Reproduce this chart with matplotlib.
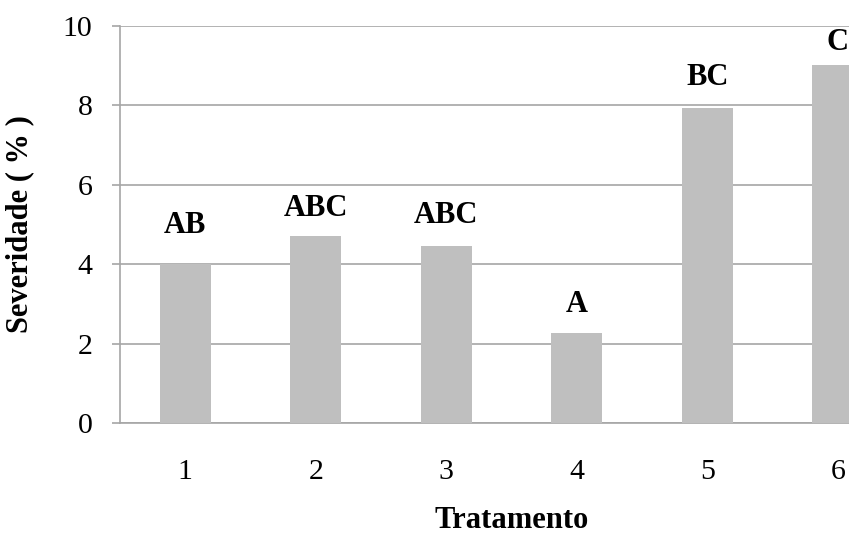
import numpy as np
import matplotlib.pyplot as plt

tratamentos = ['1', '2', '3', '4', '5', '6']
severidade = [4.0, 4.72, 4.45, 2.26, 7.93, 9.02]
letras = ['AB', 'ABC', 'ABC', 'A', 'BC', 'C']

# offset (points) of each letter above its bar, as in the original
offsets = [22.3, 13.9, 16.8, 15.1, 16.6, 10.6]

plt.rcParams['font.family'] = ['Liberation Serif', 'DejaVu Serif']

grid_color = '#a6a6a6'
bar_color = '#bfbfbf'

fig = plt.figure(figsize=(8.49, 5.36), dpi=100)
ax = fig.add_axes([120 / 849, 113 / 536, 783 / 849, 397 / 536])

x = np.arange(len(tratamentos))
bars = ax.bar(x, severidade, width=0.39, color=bar_color, zorder=3)

for rect, txt, off in zip(bars, letras, offsets):
    ax.annotate(txt, (rect.get_x() + rect.get_width() / 2, rect.get_height()),
                xytext=(0, off), textcoords='offset points',
                ha='center', va='baseline', fontsize=22, fontweight='bold')

ax.set_xlim(-0.5, len(tratamentos) - 0.5)
ax.set_ylim(0, 10)
ax.set_yticks(np.arange(0, 11, 2))
ax.set_xticks(x)
ax.set_xticklabels(tratamentos)

ax.yaxis.grid(True, color=grid_color, linewidth=1.2, zorder=0)
ax.set_axisbelow(True)

for side in ['top', 'right']:
    ax.spines[side].set_visible(False)
for side in ['left', 'bottom']:
    ax.spines[side].set_color(grid_color)
    ax.spines[side].set_linewidth(1.2)

ax.tick_params(axis='y', length=5.8, width=1.2, color=grid_color, pad=14, labelsize=21.5)
ax.tick_params(axis='x', length=0, pad=26, labelsize=21.5)

ax.set_ylabel('Severidade ( % )', fontsize=22, fontweight='bold')
ax.yaxis.set_label_coords(-0.1098, 0.5)
ax.set_xlabel('Tratamento', fontsize=22, fontweight='bold')
ax.xaxis.set_label_coords(0.5, -0.21)

fig.savefig('out.png', dpi=100)
